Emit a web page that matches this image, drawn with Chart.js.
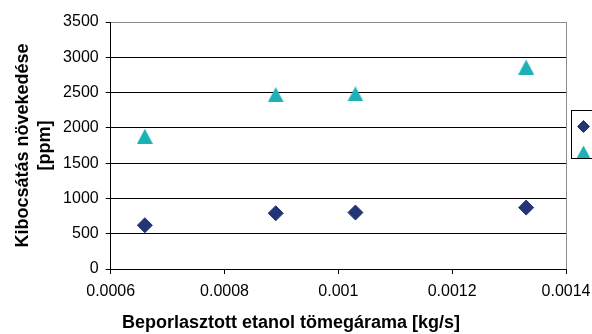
<!DOCTYPE html>
<html>
<head>
<meta charset="utf-8">
<script src="https://cdn.jsdelivr.net/npm/chart.js@4/dist/chart.umd.min.js"></script>
<style>
  html, body { margin: 0; padding: 0; background: #ffffff; overflow: hidden; }
  #wrap { width: 592px; height: 334px; }
</style>
</head>
<body>
<div id="wrap"><canvas id="c" width="592" height="334"></canvas></div>
<script>
// Ethanol mass flow [kg/s] at each measuring point
const massFlow = [0.00066, 0.00089, 0.00103, 0.00133];
// Emission increase [ppm], two measured series
const seriesDiamond = [620, 790, 800, 870];
const seriesTriangle = [1880, 2470, 2480, 2860];

const xTicks = [0.0006, 0.0008, 0.001, 0.0012, 0.0014];
const xTickLabels = ['0.0006', '0.0008', '0.001', '0.0012', '0.0014'];
const yTicks = [0, 500, 1000, 1500, 2000, 2500, 3000, 3500];
const yTickLabels = ['0', '500', '1000', '1500', '2000', '2500', '3000', '3500'];

const FONT = '"Liberation Sans", Arial, sans-serif';
const NAVY = '#243576';
const TEAL = '#1BB1B5';
const FRAME = '#8c8c8c';

const toPoints = (xs, ys) => xs.map((x, i) => ({ x: x, y: ys[i] }));

// Triangle marker whose bounding box is centred on the data point
function triangleMarker(w, h, color) {
  const cv = document.createElement('canvas');
  cv.width = w;
  cv.height = h;
  const g = cv.getContext('2d');
  g.fillStyle = color;
  g.beginPath();
  g.moveTo(w / 2, 0);
  g.lineTo(w, h);
  g.lineTo(0, h);
  g.closePath();
  g.fill();
  return cv;
}
const triPlot = triangleMarker(16, 15, TEAL);
const triLegend = triangleMarker(13, 12, TEAL);

// Small boxed legend on the right showing just the marker symbols
const markerLegend = {
  id: 'markerLegend',
  afterDraw(chart) {
    const ctx = chart.ctx;
    const left = Math.round(chart.chartArea.right) + 5.5;
    const top = 110.5;
    ctx.save();
    ctx.strokeStyle = '#000';
    ctx.lineWidth = 1;
    ctx.strokeRect(left, top, 60, 48);
    const styles = [
      { pointStyle: 'rectRot', radius: 6 },
      { pointStyle: triLegend, radius: 6 }
    ];
    chart.data.datasets.forEach((ds, i) => {
      ctx.fillStyle = ds.backgroundColor;
      ctx.strokeStyle = ds.borderColor;
      ctx.lineWidth = 1;
      Chart.helpers.drawPoint(ctx, {
        pointStyle: styles[i].pointStyle,
        radius: styles[i].radius,
        rotation: 0,
        borderWidth: 1
      }, left + 12, top + 16 + i * 25);
    });
    ctx.restore();
  }
};

new Chart(document.getElementById('c'), {
  type: 'scatter',
  data: {
    datasets: [
      {
        data: toPoints(massFlow, seriesDiamond),
        pointStyle: 'rectRot',
        pointRadius: 7.5,
        backgroundColor: NAVY,
        borderColor: NAVY,
        borderWidth: 1
      },
      {
        data: toPoints(massFlow, seriesTriangle),
        pointStyle: triPlot,
        pointRadius: 8,
        backgroundColor: TEAL,
        borderColor: TEAL,
        borderWidth: 1
      }
    ]
  },
  options: {
    responsive: false,
    animation: false,
    events: [],
    layout: { padding: { left: 16, right: 26, top: 22, bottom: 0 } },
    plugins: {
      legend: { display: false },
      tooltip: { enabled: false },
      // x-axis caption, centred under the whole chart
      title: {
        display: true,
        position: 'bottom',
        text: 'Beporlasztott etanol tömegárama [kg/s]',
        color: '#000',
        font: { family: FONT, size: 18, weight: 'bold', lineHeight: 1.2 },
        padding: { top: 0, bottom: 0 }
      }
    },
    scales: {
      x: {
        type: 'linear',
        min: xTicks[0],
        max: xTicks[xTicks.length - 1],
        afterBuildTicks: s => { s.ticks = xTicks.map(v => ({ value: v })); },
        afterFit: s => { s.height = 43.4; s.paddingLeft = 0; s.paddingRight = 0; },
        border: { color: '#000', width: 1 },
        grid: {
          drawOnChartArea: true,
          color: c => (c.tick && c.tick.value === xTicks[xTicks.length - 1]) ? FRAME : 'rgba(0,0,0,0)',
          tickColor: '#000',
          tickLength: 5
        },
        ticks: {
          color: '#000',
          font: { family: FONT, size: 16 },
          padding: 8,
          maxRotation: 0,
          callback: (v, i) => xTickLabels[i]
        }
      },
      y: {
        min: yTicks[0],
        max: yTicks[yTicks.length - 1],
        afterBuildTicks: s => { s.ticks = yTicks.map(v => ({ value: v })); },
        afterFit: s => { s.width = 94.7; s.paddingTop = 0; s.paddingBottom = 0; },
        border: { color: '#000', width: 1 },
        grid: {
          color: c => (c.tick && c.tick.value === yTicks[yTicks.length - 1]) ? FRAME : '#000',
          tickColor: '#000',
          tickLength: 5
        },
        ticks: {
          color: '#000',
          font: { family: FONT, size: 16 },
          padding: 7,
          callback: (v, i) => yTickLabels[i]
        },
        title: {
          display: true,
          text: ['Kibocsátás növekedése', '[ppm]'],
          color: '#000',
          font: { family: FONT, size: 18, weight: 'bold', lineHeight: 1.2 },
          padding: { top: -3.5, bottom: 0 }
        }
      }
    }
  },
  plugins: [markerLegend]
});
</script>
</body>
</html>
